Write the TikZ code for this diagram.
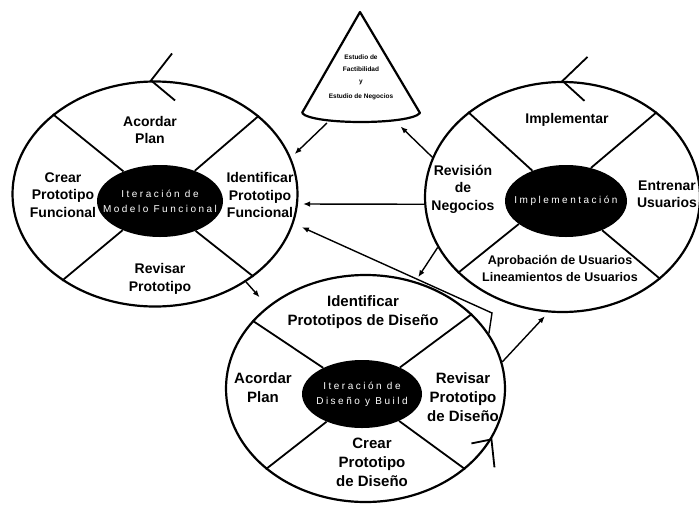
\documentclass[tikz,border=0pt]{standalone}
\usepackage{fontspec}
\setmainfont{Liberation Sans}
\newfontfamily\hubfont[LetterSpace=25]{Liberation Sans}
\usetikzlibrary{shapes.geometric,arrows.meta}

\begin{document}
\begin{tikzpicture}[x=1pt,y=-1pt,
  ring/.style={ellipse, draw, line width=2.2pt, inner sep=0pt},
  hub/.style={ellipse, fill=black, inner sep=0pt},
  hubtext/.style={text=white, font=\hubfont\fontsize{10}{15}\selectfont, align=center, inner sep=0pt},
  lbl/.style={font=\bfseries\fontsize{14}{17.5}\selectfont, align=center, inner sep=0pt},
  lblbig/.style={font=\bfseries\fontsize{15}{19}\selectfont, align=center, inner sep=0pt},
  spoke/.style={line width=1.8pt},
  flow/.style={line width=1.4pt, shorten >=5pt, -{Latex[length=7pt,width=5.5pt]}},
  tick/.style={line width=1.8pt, line join=miter}]
\useasboundingbox (0,0) rectangle (699,504);

% ---- Modelo Funcional cycle ----
\node[ring, minimum width=285pt, minimum height=225pt] (L) at (155,194) {};
\node[hub, minimum width=126pt, minimum height=72pt] (Li) at (160,201) {};
\node[hubtext] (Li-t) at (Li.center) {Iteración de\\Modelo Funcional};
\draw[spoke] (Li.41) -- (L.37);
\draw[spoke] (Li.141) -- (L.142);
\draw[spoke] (Li.218) -- (L.223);
\draw[spoke] (Li.320) -- (L.320);
\node[lbl] (l1) at (150,130) {Acordar\\Plan};
\node[lbl] (l2) at (63,195) {Crear\\Prototipo\\Funcional};
\node[lbl] (l3) at (260,195) {Identificar\\Prototipo\\Funcional};
\node[lbl] (l4) at (160,279) {Revisar\\Prototipo};
\draw[tick] ([shift={(21,-27)}]L.92) -- (L.92) -- ([shift={(24,20)}]L.92);

% ---- Implementacion cycle ----
\node[ring, minimum width=275pt, minimum height=230pt] (R) at (562.5,197) {};
\node[hub, minimum width=122pt, minimum height=72pt] (Ri) at (566,201) {};
\node[hubtext] (Ri-t) at (Ri.center) {Implementación};
\draw[spoke] (Ri.138) -- (R.138);
\draw[spoke] (Ri.53) -- (R.42);
\draw[spoke] (Ri.206) -- (R.216);
\draw[spoke] (Ri.321) -- (R.320);
\node[lbl] (r1) at (567,120) {Implementar};
\node[lbl] (r2) at (463,189) {Revisión\\de\\Negocios};
\node[lbl] (r3) at (667,194) {Entrenar\\Usuarios};
\node[lbl, font=\bfseries\fontsize{12.5}{17}\selectfont] (r4) at (560,268)
  {Aprobación de Usuarios\\Lineamientos de Usuarios};
\draw[tick] ([shift={(25,-24)}]R.north) -- (R.north) -- ([shift={(22,20)}]R.north);

% ---- Diseno y Build cycle ----
\node[ring, minimum width=279pt, minimum height=227pt] (B) at (365.5,388.5) {};
\node[hub, minimum width=120pt, minimum height=68pt] (Bi) at (362,394) {};
\node[hubtext] (Bi-t) at (Bi.center) {Iteración de\\Diseño y Build};
\draw[spoke] (Bi.146) -- (B.149);
\draw[spoke] (Bi.35) -- (B.35);
\draw[spoke] (Bi.218) -- (B.219);
\draw[spoke] (Bi.324) -- (B.321);
\node[lblbig] (b1) at (363,312) {Identificar\\Prototipos de Diseño};
\node[lblbig] (b2) at (263,388) {Acordar\\Plan};
\node[lblbig] (b3) at (463,397) {Revisar\\Prototipo\\de Diseño};
\node[lblbig] (b4) at (372,462) {Crear\\Prototipo\\de Diseño};
\draw[tick] ([shift={(-20,4)}]B.-22) -- (B.-22) -- ([shift={(3,28)}]B.-22);

% ---- study cone ----
\draw[line width=2.2pt, line join=round] (302,113) -- (360,12) -- (420,113)
  .. controls (410,125) and (312,125) .. (302,113);
\node[font=\bfseries\fontsize{6.5}{12}\selectfont, align=center] (cone) at (361,77)
  {Estudio de\\Factibilidad\\y\\[3pt]Estudio de Negocios};
\coordinate (cone-out) at (327,123);
\coordinate (cone-in) at (397,123);
\coordinate (bend) at (492,313);

% ---- flows between the cycles ----
\draw[flow] (cone-out) -- (L.15);
\draw[flow] (R.163) -- (cone-in);
\draw[flow] (R.183) -- (L.-4);
\draw[flow, shorten >=12pt] (L.-44) -- (B.140);
\draw[flow] (R.202) -- (B.65);
\draw[flow] (B.11) -- (R.263);
\draw[flow, shorten >=9pt] (B.24.5) -- (bend) -- (L.-12.6);
\end{tikzpicture}
\end{document}
